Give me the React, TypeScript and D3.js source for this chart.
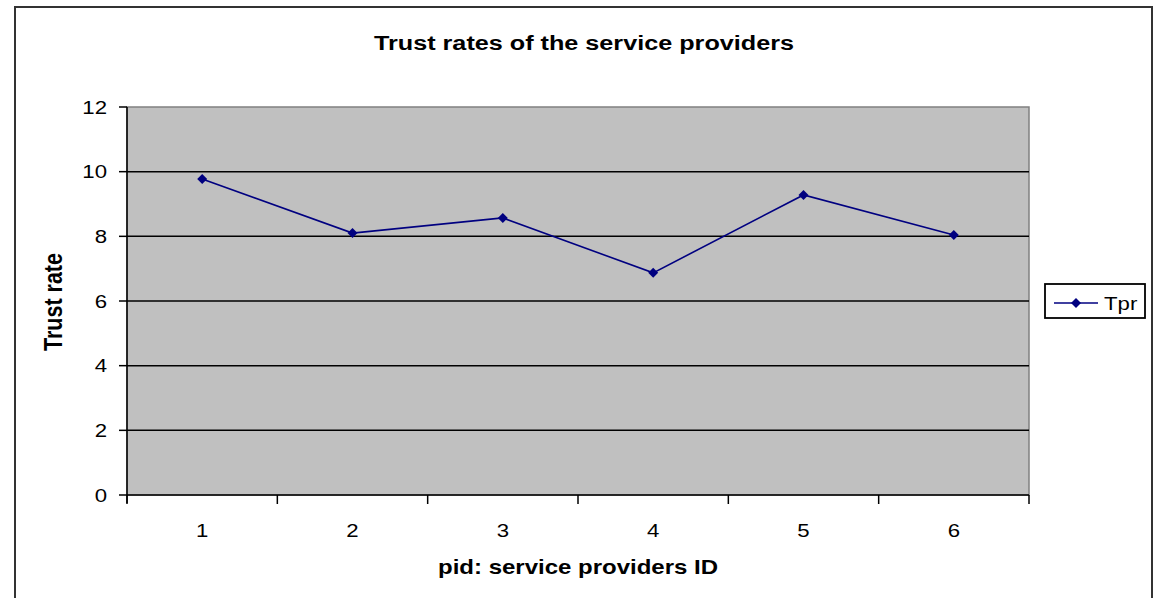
import React from 'react';
import * as d3 from 'd3';

const title = 'Trust rates of the service providers';
const xTitle = 'pid: service providers ID';
const yTitle = 'Trust rate';
const seriesName = 'Tpr';
const pids = ['1', '2', '3', '4', '5', '6'];
const tpr = [9.77, 8.1, 8.57, 6.87, 9.28, 8.04];
const yTicks = [0, 2, 4, 6, 8, 10, 12];

const W = 1159;
const H = 598;
const plot = { left: 127, right: 1029, top: 107, bottom: 495 };
const SX = 1.2; // horizontal stretch of text
const FONT = '"Liberation Sans", Arial, sans-serif';

function SText({ x, y, size, bold, anchor = 'middle', rotate = 0, children }: any) {
  return (
    <g transform={`translate(${x},${y}) rotate(${rotate}) scale(${rotate ? 1 : SX},${rotate ? SX : 1})`}>
      <text
        x={0}
        y={0}
        fontFamily={FONT}
        fontSize={size}
        fontWeight={bold ? 'bold' : 'normal'}
        textAnchor={anchor}
        fill="#000"
      >
        {children}
      </text>
    </g>
  );
}

export default function App() {
  const x = d3.scaleBand<string>().domain(pids).range([plot.left, plot.right]).padding(0);
  const y = d3.scaleLinear().domain([0, 12]).range([plot.bottom, plot.top]);
  const cx = (p: string) => (x(p) as number) + x.bandwidth() / 2;
  const line = d3
    .line<number>()
    .x((_, i) => cx(pids[i]))
    .y((v) => y(v));
  const diamond = (px: number, py: number, r = 5) =>
    `M${px},${py - r}L${px + r},${py}L${px},${py + r}L${px - r},${py}Z`;

  const bounds = pids.map((p) => x(p) as number).concat([plot.right]);

  return (
    <svg width={W} height={H} style={{ position: 'absolute', left: 0, top: 0, background: '#fff' }}>
      {/* outer frame */}
      <rect x={15} y={7} width={1137} height={620} fill="#fff" stroke="#333" strokeWidth={2} />
      <SText x={584} y={50} size={21} bold>
        {title}
      </SText>
      {/* plot area */}
      <rect
        x={plot.left}
        y={plot.top}
        width={plot.right - plot.left}
        height={plot.bottom - plot.top}
        fill="#c0c0c0"
        stroke="#808080"
        strokeWidth={1.5}
      />
      {yTicks
        .filter((t) => t !== 0 && t !== 12)
        .map((t) => (
          <line key={t} x1={plot.left} x2={plot.right} y1={y(t)} y2={y(t)} stroke="#000" strokeWidth={1.5} />
        ))}
      {/* axes */}
      <line x1={plot.left} x2={plot.left} y1={plot.top} y2={plot.bottom + 8} stroke="#000" strokeWidth={1.5} />
      <line x1={plot.left} x2={plot.right} y1={plot.bottom} y2={plot.bottom} stroke="#000" strokeWidth={1.5} />
      {yTicks.map((t) => (
        <g key={t}>
          <line x1={plot.left - 8} x2={plot.left} y1={y(t)} y2={y(t)} stroke="#000" strokeWidth={1.5} />
          <SText x={107} y={y(t) + 6.5} size={18.5} anchor="end">
            {t}
          </SText>
        </g>
      ))}
      {bounds.map((b, i) => (
        <line key={i} x1={b} x2={b} y1={plot.bottom} y2={plot.bottom + 9} stroke="#000" strokeWidth={1.5} />
      ))}
      {pids.map((p) => (
        <SText key={p} x={cx(p)} y={537} size={18.5}>
          {p}
        </SText>
      ))}
      <SText x={578} y={574} size={20} bold>
        {xTitle}
      </SText>
      <SText x={62} y={302} size={21.5} bold rotate={-90}>
        {yTitle}
      </SText>
      {/* series */}
      <path d={line(tpr) || ''} fill="none" stroke="#000080" strokeWidth={1.6} />
      {tpr.map((v, i) => (
        <path key={i} d={diamond(cx(pids[i]), y(v))} fill="#000080" />
      ))}
      {/* legend */}
      <rect x={1045} y={284} width={100} height={34} fill="#fff" stroke="#000" strokeWidth={1.8} />
      <line x1={1054} x2={1098} y1={303} y2={303} stroke="#000080" strokeWidth={1.6} />
      <path d={diamond(1076, 303)} fill="#000080" />
      <SText x={1104} y={310} size={18.5} anchor="start">
        {seriesName}
      </SText>
    </svg>
  );
}
